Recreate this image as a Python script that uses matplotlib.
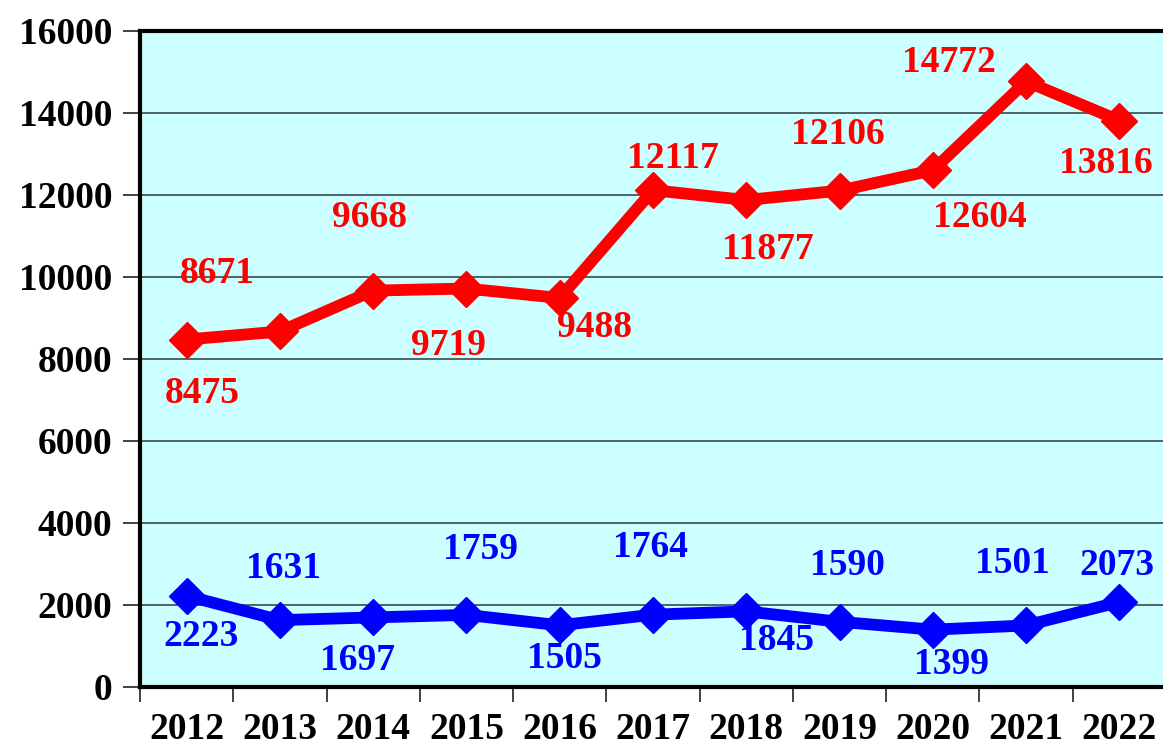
import matplotlib
matplotlib.use("Agg")
import matplotlib.pyplot as plt

years = ['2012', '2013', '2014', '2015', '2016', '2017', '2018', '2019', '2020', '2021', '2022']
red_vals = [8475, 8671, 9668, 9719, 9488, 12117, 11877, 12106, 12604, 14772, 13816]
blue_vals = [2223, 1631, 1697, 1759, 1505, 1764, 1845, 1590, 1399, 1501, 2073]

# label offsets in pixels (dx, dy), dy positive = up
red_offs = [(16, -54), (-63, 58), (-4, 73), (-18, -57), (35, -30), (20, 32),
            (22, -49), (-2, 56), (47, -47), (-77, 19), (-13, -43)]
blue_offs = [(14, -41), (4, 52), (-16, -43), (14, 65), (5, -33), (-2, 67),
             (30, -29), (8, 56), (19, -35), (-14, 62), (-2, 37)]

plt.rcParams['font.family'] = ['Liberation Serif', 'DejaVu Serif']
plt.rcParams['font.weight'] = 'bold'

fig = plt.figure(figsize=(11.63, 7.49), dpi=100)
ax = fig.add_axes([140 / 1163, 1 - 687 / 749, 1026 / 1163, 656 / 749])
ax.set_facecolor('#CCFFFF')

x = list(range(len(years)))
ax.plot(x, red_vals, color='#FF0000', lw=8.5, marker='D', ms=18, zorder=3)
ax.plot(x, blue_vals, color='#0000FF', lw=8.5, marker='D', ms=18, zorder=3)

for i in x:
    ax.annotate(str(red_vals[i]), (i, red_vals[i]), xytext=red_offs[i],
                textcoords='offset pixels', ha='center', va='center',
                color='#FF0000', fontsize=27, fontweight='bold')
    ax.annotate(str(blue_vals[i]), (i, blue_vals[i]), xytext=blue_offs[i],
                textcoords='offset pixels', ha='center', va='center',
                color='#0000FF', fontsize=27, fontweight='bold')

ax.set_xlim(-0.5, len(years) - 0.5)
ax.set_ylim(0, 16000)
ax.set_yticks(range(0, 16001, 2000))
ax.set_xticks(x)
ax.set_xticklabels(years)
ax.set_xticks([i + 0.5 for i in range(-1, len(years))], minor=True)
ax.tick_params(axis='x', which='major', length=0, pad=18, labelsize=27)
ax.tick_params(axis='x', which='minor', length=11, width=1.3, color='#333333')
ax.tick_params(axis='y', length=12, width=1.3, color='#333333', pad=8, labelsize=27)
ax.yaxis.grid(True, color='#3a4a4a', lw=1.2)
ax.set_axisbelow(True)
for s in ax.spines.values():
    s.set_linewidth(3)
    s.set_color('black')

fig.savefig('out.png', dpi=100)
